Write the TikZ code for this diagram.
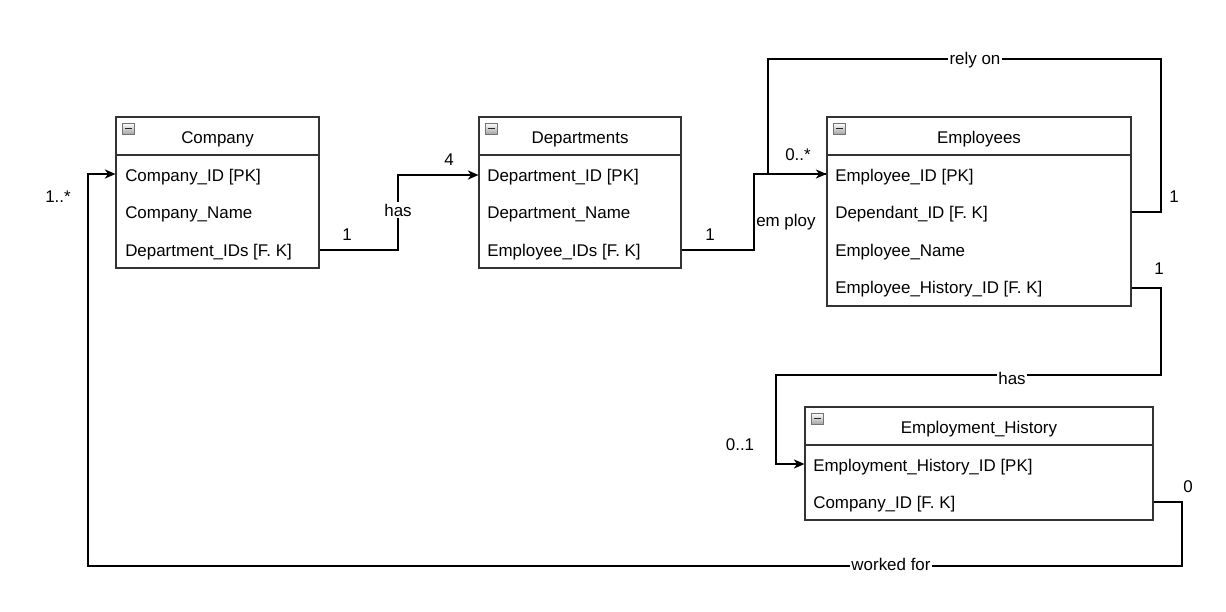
\documentclass[tikz,border=0pt]{standalone}
\usepackage{fontspec}
\setmainfont{Liberation Sans}
\usetikzlibrary{arrows.meta}
\begin{document}
\begin{tikzpicture}[x=0.75pt,y=-0.75pt,
  font=\fontsize{12.7}{14}\selectfont,
  box/.style={draw=black!80, line width=0.9pt, fill=white, inner sep=0pt},
  row/.style={anchor=west, inner sep=0pt},
  title/.style={inner sep=0pt},
  link/.style={draw=black, line width=0.8pt},
  arr/.style={link, -{Stealth[length=8pt,width=7pt,inset=2.5pt]}},
  lbl/.style={fill=white, inner sep=1pt},
  card/.style={inner sep=0pt}]
\useasboundingbox[fill=white] (0,0) rectangle (1226,611);
\newcommand\minusicon[2]{%
  \draw[black!55, line width=0.5pt, top color=white, bottom color=black!35] (#1,#2) rectangle ++(12,11);
  \draw[black!85, line width=1.2pt] (#1+2.5,#2+5.5) -- ++(7,0);}

% Company
\node[box, minimum width=152.25pt, minimum height=113.25pt] (comp) at (217.5,192.5) {};
\draw[black!80, line width=0.9pt] (comp.west |- 0,155) -- (comp.east |- 0,155);
\minusicon{122}{123}
\node[title] (compt) at (217.5,139) {Company};
\node[row] (c1) at (125,177) {Company\_ID [PK]};
\node[row] (c2) at (125,214.5) {Company\_Name};
\node[row] (c3) at (125,252) {Department\_IDs [F. K]};

% Departments
\node[box, minimum width=151.5pt, minimum height=113.25pt] (dept) at (580,192.5) {};
\draw[black!80, line width=0.9pt] (dept.west |- 0,155) -- (dept.east |- 0,155);
\minusicon{485}{123}
\node[title] (deptt) at (580,139) {Departments};
\node[row] (d1) at (487,177) {Department\_ID [PK]};
\node[row] (d2) at (487,214.5) {Department\_Name};
\node[row] (d3) at (487,252) {Employee\_IDs [F. K]};

% Employees
\node[box, minimum width=228pt, minimum height=141.75pt] (emp) at (979,211.5) {};
\draw[black!80, line width=0.9pt] (emp.west |- 0,155) -- (emp.east |- 0,155);
\minusicon{833}{123}
\node[title] (empt) at (979,139) {Employees};
\node[row] (e1) at (835,177) {Employee\_ID [PK]};
\node[row] (e2) at (835,214.5) {Dependant\_ID [F. K]};
\node[row] (e3) at (835,252) {Employee\_Name};
\node[row] (e4) at (835,289.5) {Employee\_History\_ID [F. K]};

% Employment_History
\node[box, minimum width=261pt, minimum height=84.75pt] (eh) at (979,463.5) {};
\draw[black!80, line width=0.9pt] (eh.west |- 0,445) -- (eh.east |- 0,445);
\minusicon{811}{413}
\node[title] (eht) at (979,429) {Employment\_History};
\node[row] (h1) at (813,467) {Employment\_History\_ID [PK]};
\node[row] (h2) at (813,504.5) {Company\_ID [F. K]};

% Company -> Departments (has)
\draw[arr] (comp.east |- 0,250) -- (398,250) -- (398,175) -- (dept.west |- 0,175);
\node[lbl] (l1) at (398,210) {has};
\node[card] (l1a) at (347,235) {1};
\node[card] (l1b) at (449,160) {4};

% Departments -> Employees (employ)
\draw[arr] (dept.east |- 0,250) -- (754,250) -- (754,174) -- (emp.west |- 0,174);
\node[card, anchor=west] (l2) at (756,222) {em ploy};
\node[card] (l2a) at (710,235) {1};
\node[card] (l2b) at (798,155) {0..*};

% Employees self (rely on)
\draw[link] (emp.east |- 0,212) -- (1161,212) -- (1161,59) -- (768,59) -- (768,174) -- (emp.west |- 0,174);
\node[lbl] (l3) at (975,60) {rely on};
\node[card] (l3a) at (1174,197) {1};

% Employees -> Employment_History (has)
\draw[arr] (emp.east |- 0,288) -- (1161,288) -- (1161,375) -- (776,375) -- (776,464) -- (eh.west |- 0,464);
\node[lbl] (l4) at (1012,378) {has};
\node[card] (l4a) at (1159,269) {1};
\node[card] (l4b) at (740,445) {0..1};

% Employment_History -> Company (worked for)
\draw[arr] (eh.east |- 0,502) -- (1182,502) -- (1182,566) -- (88,566) -- (88,174) -- (comp.west |- 0,174);
\node[lbl] (l5) at (891,564) {worked for};
\node[card] (l5a) at (1188,487) {0};
\node[card] (l5b) at (58,197) {1..*};
\end{tikzpicture}
\end{document}
